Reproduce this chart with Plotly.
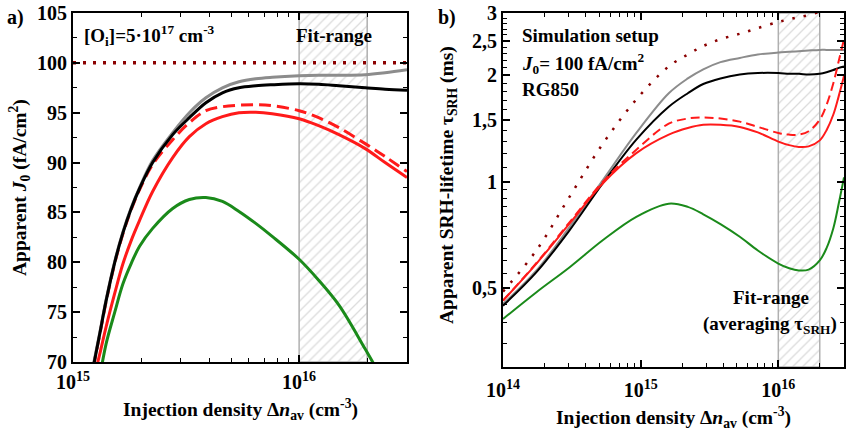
import plotly.graph_objects as go

# ---------------- panel a: apparent J0 versus injection density ----------------
a_n = [1.23e15, 1.31e15, 1.40e15, 1.53e15, 1.66e15, 1.81e15, 1.97e15, 2.25e15,
       2.76e15, 3.27e15, 3.87e15, 4.58e15, 5.42e15, 6.43e15, 7.60e15, 1.0e16,
       1.22e16, 1.5e16, 1.96e16, 2.4e16, 3.0e16]
a_gray = [69.7, 72.8, 76.2, 80.1, 83.0, 85.5, 87.5, 90.2, 93.0, 95.0, 96.5, 97.5,
          98.1, 98.4, 98.55, 98.7, 98.75, 98.75, 98.8, 99.0, 99.3]
a_black = [69.5, 72.7, 76.1, 80.0, 82.9, 85.4, 87.4, 90.0, 92.8, 94.5, 96.0, 97.0,
           97.5, 97.7, 97.8, 97.9, 97.85, 97.7, 97.5, 97.35, 97.25]
a_red_dash = [69.5, 72.6, 76.0, 79.9, 82.8, 85.3, 87.3, 89.8, 92.3, 94.0, 95.2, 95.6,
              95.75, 95.8, 95.7, 95.2, 94.5, 93.5, 91.9, 90.6, 89.1]
a_red = [68.2, 70.7, 73.5, 76.9, 79.8, 82.2, 84.2, 87.1, 90.5, 92.6, 93.9, 94.6,
         95.0, 95.05, 94.9, 94.4, 93.7, 92.8, 91.4, 90.0, 88.5]
a_green_n = [1.31e15, 1.40e15, 1.53e15, 1.66e15, 1.81e15, 1.97e15, 2.25e15, 2.76e15,
             3.27e15, 3.87e15, 4.58e15, 5.42e15, 6.43e15, 7.60e15, 1.0e16, 1.22e16,
             1.5e16, 1.96e16, 2.4e16]
a_green = [68.3, 71.8, 75.0, 77.8, 79.9, 81.6, 83.4, 85.4, 86.3, 86.5, 86.1, 85.1,
           83.9, 82.6, 80.3, 78.2, 75.7, 71.3, 67.8]
a_j0_set = [100, 100]
a_j0_n = [1e15, 3e16]

# ---------------- panel b: apparent SRH lifetime versus injection density ------
b_n = [1e14, 1.75e14, 3.05e14, 5.3e14, 9.3e14, 1.6e15, 2.2e15, 2.85e15, 3.8e15,
       5.25e15, 7.1e15, 1e16, 1.2e16, 1.41e16, 1.66e16, 2e16, 2.24e16, 2.51e16,
       2.75e16, 3e16]
b_dot = [0.49, 0.641, 0.909, 1.28, 1.71, 2.12, 2.29, 2.42, 2.53, 2.62, 2.72, 2.83,
         2.88, 2.92, 2.96, 3.02, 3.05, 3.08, 3.1, 3.12]
b_gray = [0.452, 0.562, 0.746, 1.01, 1.375, 1.78, 1.96, 2.08, 2.18, 2.24, 2.29, 2.32,
          2.33, 2.34, 2.35, 2.36, 2.36, 2.36, 2.36, 2.36]
b_black = [0.447, 0.556, 0.731, 0.99, 1.316, 1.63, 1.78, 1.89, 1.96, 2.01, 2.03, 2.03,
           2.02, 2.02, 2.01, 2.02, 2.04, 2.07, 2.10, 2.12]
b_red = [0.462, 0.588, 0.763, 0.99, 1.206, 1.36, 1.42, 1.45, 1.45, 1.43, 1.38, 1.30,
         1.27, 1.255, 1.26, 1.31, 1.40, 1.55, 1.75, 1.99]
b_red_dash = [0.462, 0.59, 0.77, 1.0, 1.233, 1.46, 1.51, 1.52, 1.51, 1.48, 1.43, 1.375,
              1.36, 1.36, 1.39, 1.50, 1.65, 1.90, 2.2, 2.53]
b_green = [0.41, 0.488, 0.574, 0.684, 0.797, 0.868, 0.85, 0.81, 0.76, 0.70, 0.64, 0.588,
           0.57, 0.562, 0.565, 0.60, 0.65, 0.74, 0.87, 1.03]

fit_lo, fit_hi = 1e16, 2e16
a_yrange = [70, 105]
b_yrange = [0.3, 3.0]

FONT = "Liberation Serif, Times New Roman, serif"
W, H = 850, 435
fig = go.Figure()


def hatch(xa, ya, ylo, yhi):
    fig.add_trace(go.Scatter(
        x=[fit_lo, fit_hi, fit_hi, fit_lo, fit_lo],
        y=[ylo, ylo, yhi, yhi, ylo],
        mode="lines", fill="toself",
        fillcolor="white",
        fillpattern=dict(shape="/", fgcolor="#b8b8b8", bgcolor="white",
                         size=7, solidity=0.18),
        line=dict(color="#b0b0b0", width=1.5),
        xaxis=xa, yaxis=ya, hoverinfo="skip", showlegend=False))


def curve(x, y, color, width, dash, xa, ya):
    fig.add_trace(go.Scatter(
        x=x, y=y, mode="lines",
        line=dict(color=color, width=width, dash=dash, shape="spline", smoothing=1.0),
        xaxis=xa, yaxis=ya, showlegend=False))


# panel a
hatch("x", "y", a_yrange[0], a_yrange[1])
curve(a_j0_n, a_j0_set, "#8b0000", 3.5, "3px,7px", "x", "y")
curve(a_green_n, a_green, "#1a8a1a", 3, "solid", "x", "y")
curve(a_n, a_red, "#ff1a1a", 3, "solid", "x", "y")
curve(a_n, a_red_dash, "#ff1a1a", 3, "12px,6px", "x", "y")
curve(a_n, a_gray, "#8c8c8c", 3, "solid", "x", "y")
curve(a_n, a_black, "black", 3, "solid", "x", "y")

# panel b
hatch("x2", "y2", b_yrange[0], b_yrange[1])
curve(b_n, b_dot, "#8b0000", 2.5, "2.5px,9px", "x2", "y2")
curve(b_n, b_green, "#1a8a1a", 2, "solid", "x2", "y2")
curve(b_n, b_gray, "#8c8c8c", 2, "solid", "x2", "y2")
curve(b_n, b_black, "black", 2, "solid", "x2", "y2")
curve(b_n, b_red_dash, "#ff1a1a", 2, "9px,5px", "x2", "y2")
curve(b_n, b_red, "#ff1a1a", 2, "solid", "x2", "y2")

tickfont = dict(family=FONT, size=20, color="black", weight="bold")
axis_common = dict(showline=True, linecolor="black", linewidth=2, mirror="ticks",
                   ticks="inside", ticklen=7, tickwidth=1.5, tickcolor="black",
                   showgrid=False, zeroline=False, tickfont=tickfont, automargin=False)

def minor(vals):
    return dict(tickvals=vals, ticks="inside", ticklen=4, tickwidth=1.2,
                tickcolor="black", showgrid=False)

a_minor_x = [k * 1e15 for k in range(2, 10)] + [2e16]
b_minor_x = [k * 1e14 for k in range(2, 10)] + [k * 1e15 for k in range(2, 10)] + [2e16]
b_minor_y = [0.35, 0.4, 0.45, 0.55, 0.6, 0.65, 0.7, 0.75, 0.8, 0.85, 0.9, 0.95] + \
            [1.1, 1.2, 1.3, 1.4, 1.6, 1.7, 1.8, 1.9, 2.1, 2.2, 2.3, 2.4, 2.6, 2.7, 2.8, 2.9]

fig.update_layout(
    width=W, height=H, margin=dict(l=0, r=0, t=0, b=0, autoexpand=False),
    paper_bgcolor="white", plot_bgcolor="white",
    font=dict(family=FONT, size=19, color="black", weight="bold"),
    xaxis=dict(type="log", range=[15, 16.4771], domain=[73 / W, 407 / W],
               tickvals=[1e15, 1e16], ticktext=["10<sup>15</sup>", "10<sup>16</sup>"],
               minor=minor(a_minor_x), anchor="y", ticklabelstandoff=1, **axis_common),
    yaxis=dict(range=a_yrange, domain=[1 - 362 / H, 1 - 13 / H],
               tickvals=[70, 75, 80, 85, 90, 95, 100, 105],
               minor=minor([72.5, 77.5, 82.5, 87.5, 92.5, 97.5, 102.5]),
               anchor="x", **axis_common),
    xaxis2=dict(type="log", range=[14, 16.4771], domain=[503 / W, 844 / W],
                tickvals=[1e14, 1e15, 1e16],
                ticktext=["10<sup>14</sup>", "10<sup>15</sup>", "10<sup>16</sup>"],
                minor=minor(b_minor_x), anchor="y2", ticklabelstandoff=4, **axis_common),
    yaxis2=dict(type="log", range=[-0.5229, 0.4771], domain=[1 - 367 / H, 1 - 13 / H],
                tickvals=[0.5, 1, 1.5, 2, 2.5, 3],
                ticktext=["0,5", "1", "1,5", "2", "2,5", "3"],
                minor=minor(b_minor_y), anchor="x2", **axis_common),
)


def label(px, py, text, size=19, xanchor="center", angle=0):
    fig.add_annotation(x=px / W, y=1 - py / H, xref="paper", yref="paper",
                       text=text, showarrow=False, xanchor=xanchor, yanchor="middle",
                       textangle=angle,
                       font=dict(family=FONT, size=size, color="black", weight="bold"))


label(16, 18, "a)", 20)
label(447, 18, "b)", 20)
label(82, 36, "[O<sub>i</sub>]=5·10<sup>17</sup> cm<sup>-3</sup>", 19, "left")
label(334, 36, "Fit-range", 19)
label(240, 409, "Injection density Δ<i>n</i><sub>av</sub> (cm<sup>-3</sup>)", 19.5)
label(673, 417, "Injection density Δ<i>n</i><sub>av</sub> (cm<sup>-3</sup>)", 19.5)
label(19, 188, "Apparent <i>J</i><sub>0</sub> (fA/cm<sup>2</sup>)", 19.5, angle=-90)
label(448, 185, "Apparent SRH-lifetime τ<sub>SRH</sub> (ms)", 19.5, angle=-90)
label(520, 36, "Simulation setup", 19, "left")
label(520, 63, "<i>J</i><sub>0</sub>= 100 fA/cm<sup>2</sup>", 19, "left")
label(520, 89, "RG850", 19, "left")
label(771, 297, "Fit-range", 19)
label(770, 325, "(averaging τ<sub>SRH</sub>)", 19)

fig.write_html("out.html")
